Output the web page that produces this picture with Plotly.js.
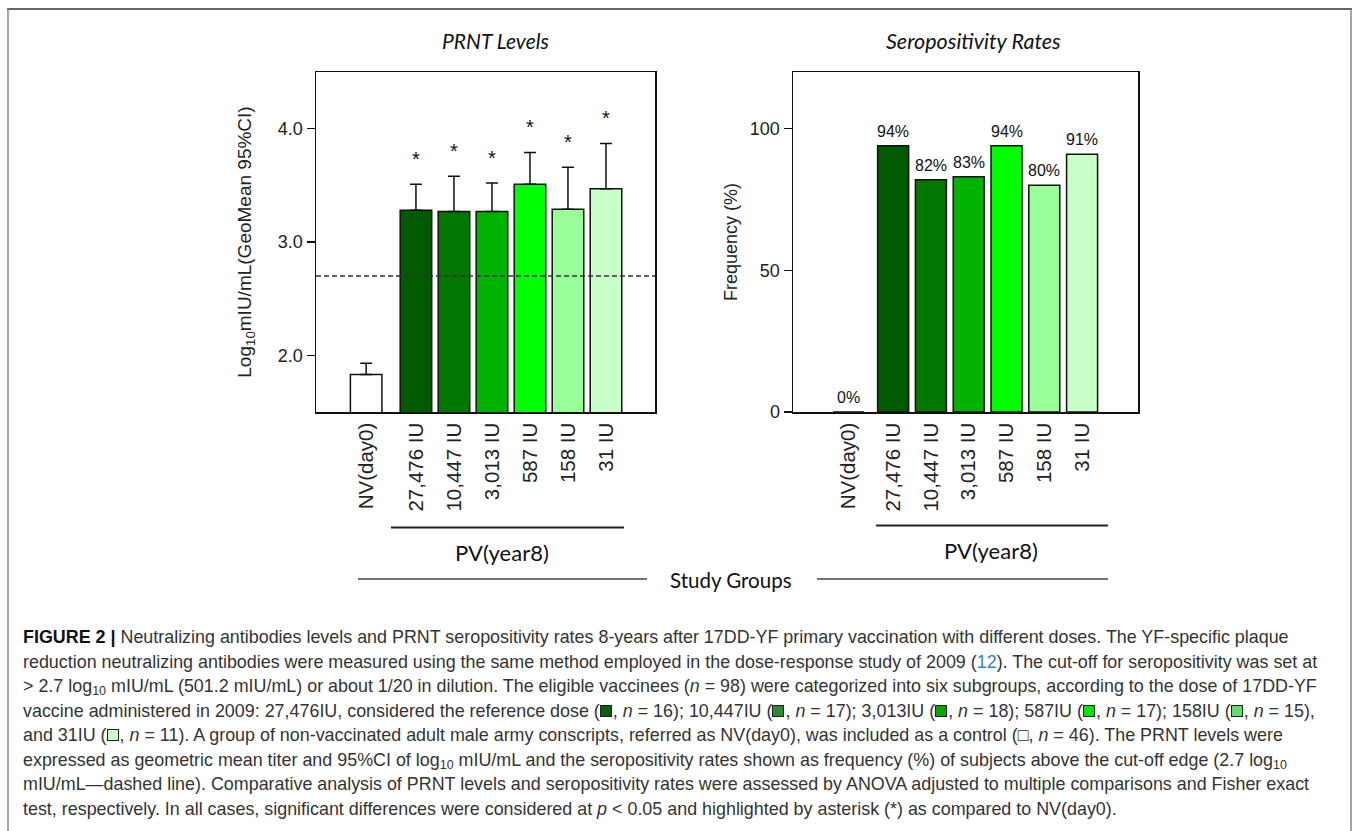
<!DOCTYPE html>
<html><head><meta charset="utf-8">
<script src="https://cdn.plot.ly/plotly-3.0.1.min.js"></script>
<style>
html,body{margin:0;padding:0;background:#fff;width:1357px;height:831px;overflow:hidden;}
#chart{position:absolute;left:0;top:0;width:1357px;height:831px;}
#caption{position:absolute;left:0;top:0;width:1357px;height:831px;pointer-events:none;}
.ln{position:absolute;left:23px;white-space:nowrap;font-family:"Liberation Sans",Arial,sans-serif;font-size:17.9px;line-height:20px;color:#333;}
.ln b{color:#111;}
.sq{display:inline-block;width:10px;height:10px;border:1px solid #222;vertical-align:0px;margin:0 1px 0 0;}
.ref{color:#3b7fc4;}
sub{font-size:70%;vertical-align:-3px;line-height:0;}
</style></head>
<body>
<div id="chart"></div>
<div id="caption"></div>
<script>
// ---------- data ----------
const groups = ["NV(day0)", "27,476 IU", "10,447 IU", "3,013 IU", "587 IU", "158 IU", "31 IU"];
const prntMean = [1.83, 3.28, 3.27, 3.27, 3.51, 3.29, 3.47];
const prntUpper = [1.93, 3.51, 3.58, 3.52, 3.79, 3.66, 3.87];
const prntSignificant = [false, true, true, true, true, true, true];
const seroRate = [0, 94, 82, 83, 94, 80, 91];
const seroLabels = ["0%", "94%", "82%", "83%", "94%", "80%", "91%"];
const groupColors = ["#ffffff", "#005a00", "#007800", "#00b300", "#00ff00", "#99ff99", "#c8ffc8"];
const cutoff = 2.7;
const prntTicks = [2, 3, 4];
const prntTickText = ["2.0", "3.0", "4.0"];
const seroTicks = [0, 50, 100];
const seroTickText = ["0", "50", "100"];

// ---------- layout helpers ----------
const W = 1357, H = 831;
const px = v => v / W;
const py = v => 1 - v / H;
function positions(gap) { return groups.map((g, i) => i === 0 ? 0 : i - 1 + gap); }
const xLeft = positions(1.31);
const xRight = positions(1.18);
const AX = "Liberation Sans, Arial, sans-serif";
const CAL = "Lato, 'Open Sans', sans-serif";

const traces = [
  {
    type: "bar", x: xLeft, y: prntMean, width: 0.83, xaxis: "x", yaxis: "y",
    marker: { color: groupColors, line: { color: "#111", width: 1.5 } },
    error_y: { type: "data", symmetric: false,
      array: prntUpper.map((u, i) => u - prntMean[i]), arrayminus: prntMean.map(() => 0),
      color: "#111", thickness: 1.5, width: 6 },
    hoverinfo: "none", showlegend: false
  },
  {
    type: "bar", x: xRight, y: seroRate, width: 0.82, xaxis: "x2", yaxis: "y2",
    marker: { color: groupColors, line: { color: "#111", width: 1.5 } },
    hoverinfo: "none", showlegend: false
  }
];

function label(x, y, text, font, extra) {
  return Object.assign({ xref: "paper", yref: "paper", x: px(x), y: py(y), text: text,
    showarrow: false, xanchor: "center", yanchor: "middle", font: font }, extra || {});
}
const annotations = [];
annotations.push(label(495, 41, "<i>PRNT Levels</i>", { family: CAL, size: 21, color: "#111" }));
annotations.push(label(973, 41, "<i>Seropositivity Rates</i>", { family: CAL, size: 21.5, color: "#111" }));
prntUpper.forEach((u, i) => {
  if (prntSignificant[i]) annotations.push({ xref: "x", yref: "y", x: xLeft[i], y: u, text: "*",
    showarrow: false, xanchor: "center", yanchor: "bottom", yshift: 12, font: { family: AX, size: 20, color: "#111" } });
});
seroRate.forEach((v, i) => {
  annotations.push({ xref: "x2", yref: "y2", x: xRight[i], y: v, text: seroLabels[i],
    showarrow: false, xanchor: "center", yanchor: "bottom", yshift: 4, font: { family: AX, size: 16, color: "#111" } });
});
annotations.push(label(502, 552, "PV(year8)", { family: CAL, size: 22, color: "#111" }));
annotations.push(label(991, 550, "PV(year8)", { family: CAL, size: 22, color: "#111" }));
annotations.push(label(731, 580, "Study Groups", { family: CAL, size: 20.5, color: "#111" }));

function pline(x0, y0, x1, y1, color, width) {
  return { type: "line", xref: "paper", yref: "paper", x0: px(x0), x1: px(x1), y0: py(y0), y1: py(y1),
    line: { color: color, width: width } };
}
const shapes = [
  { type: "line", xref: "x domain", yref: "y", x0: 0, x1: 1, y0: cutoff, y1: cutoff,
    line: { color: "#333", width: 1.5, dash: "5px,3px" } },
  pline(391, 527.5, 624, 527.5, "#222", 1.8),
  pline(876, 525.5, 1108, 525.5, "#222", 1.8),
  pline(358, 579, 647, 579, "#444", 1.3),
  pline(817, 579, 1108, 579, "#444", 1.3),
  pline(7, 9, 1352, 9, "#333", 1.6),
  pline(8, 9, 8, 831, "#888", 1.5),
  pline(1351, 9, 1351, 831, "#888", 1.5)
];

const baseX = { showline: true, mirror: true, linecolor: "#111", linewidth: 1.5, ticks: "",
  showgrid: false, zeroline: false, tickangle: -90, ticklabelstandoff: 1,
  tickfont: { family: AX, size: 20.5, color: "#222" }, fixedrange: true };
const baseY = { showline: true, mirror: true, linecolor: "#111", linewidth: 1.5, ticks: "outside",
  ticklen: 8, tickwidth: 1.5, tickcolor: "#111", showgrid: false, zeroline: false,
  tickfont: { family: AX, size: 18, color: "#222" }, fixedrange: true };

const layout = {
  width: W, height: H, margin: { l: 0, r: 0, t: 0, b: 0 },
  paper_bgcolor: "rgba(0,0,0,0)", plot_bgcolor: "#fff", bargap: 0,
  xaxis: Object.assign({}, baseX, { domain: [px(316), px(655)], range: [-1.32, 7.6],
    tickvals: xLeft, ticktext: groups, anchor: "y" }),
  yaxis: Object.assign({}, baseY, { domain: [py(412), py(72)], range: [1.5, 4.5],
    tickvals: prntTicks, ticktext: prntTickText, anchor: "x",
    title: { text: "Log<sub>10</sub>mIU/mL(GeoMean 95%CI)", standoff: 21,
      font: { family: AX, size: 19, color: "#222" } } }),
  xaxis2: Object.assign({}, baseX, { domain: [px(793), px(1138)], range: [-1.47, 7.66],
    tickvals: xRight, ticktext: groups, anchor: "y2" }),
  yaxis2: Object.assign({}, baseY, { domain: [py(412), py(72)], range: [0, 120],
    tickvals: seroTicks, ticktext: seroTickText, anchor: "x2",
    title: { text: "Frequency (%)", standoff: 7, font: { family: AX, size: 18, color: "#222" } } }),
  annotations: annotations,
  shapes: shapes
};

Plotly.newPlot("chart", traces, layout, { displayModeBar: false, staticPlot: true });

// ---------- caption ----------
const sq = c => '<span class="sq" style="background:' + c + '"></span>';
const n = '<i>n</i>';
const captionLines = [
  '<b>FIGURE 2 |</b> Neutralizing antibodies levels and PRNT seropositivity rates 8-years after 17DD-YF primary vaccination with different doses. The YF-specific plaque',
  'reduction neutralizing antibodies were measured using the same method employed in the dose-response study of 2009 (<span class="ref">12</span>). The cut-off for seropositivity was set at',
  '&gt; 2.7 log<sub>10</sub> mIU/mL (501.2 mIU/mL) or about 1/20 in dilution. The eligible vaccinees (' + n + ' = 98) were categorized into six subgroups, according to the dose of 17DD-YF',
  'vaccine administered in 2009: 27,476IU, considered the reference dose (' + sq('#0b5e0b') + ', ' + n + ' = 16); 10,447IU (' + sq('#2e8a2e') + ', ' + n + ' = 17); 3,013IU (' + sq('#00a800') + ', ' + n + ' = 18); 587IU (' + sq('#00e800') + ', ' + n + ' = 17); 158IU (' + sq('#66dd66') + ', ' + n + ' = 15),',
  'and 31IU (' + sq('#c8ffc8') + ', ' + n + ' = 11). A group of non-vaccinated adult male army conscripts, referred as NV(day0), was included as a control (&#9633;, ' + n + ' = 46). The PRNT levels were',
  'expressed as geometric mean titer and 95%CI of log<sub>10</sub> mIU/mL and the seropositivity rates shown as frequency (%) of subjects above the cut-off edge (2.7 log<sub>10</sub>',
  'mIU/mL&mdash;dashed line). Comparative analysis of PRNT levels and seropositivity rates were assessed by ANOVA adjusted to multiple comparisons and Fisher exact',
  'test, respectively. In all cases, significant differences were considered at <i>p</i> &lt; 0.05 and highlighted by asterisk (*) as compared to NV(day0).'
];
const cap = document.getElementById("caption");
captionLines.forEach((html, i) => {
  const d = document.createElement("div");
  d.className = "ln";
  d.style.top = (627 + i * 24.5) + "px";
  d.innerHTML = html;
  cap.appendChild(d);
});
</script>
</body></html>
